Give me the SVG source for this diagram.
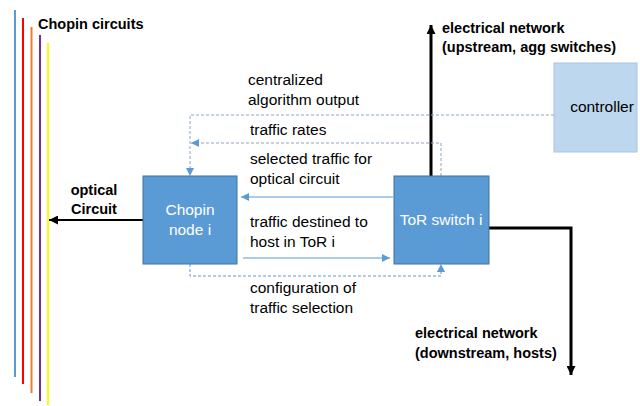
<svg xmlns="http://www.w3.org/2000/svg" width="640" height="406" viewBox="0 0 640 406">
<style>
.t{font-family:"Liberation Sans",Arial,sans-serif;font-size:15.5px;fill:#000}
.b{font-family:"Liberation Sans",Arial,sans-serif;font-size:14.5px;font-weight:bold;fill:#000}
.w{font-family:"Liberation Sans",Arial,sans-serif;font-size:15.5px;fill:#fff}
.node{fill:#5B9BD5;stroke:#41719C;stroke-width:1}
.dash{fill:none;stroke-width:1;stroke-dasharray:3,2}
.thick{fill:none;stroke:#000;stroke-width:3}
.thin{fill:none;stroke:#5B9BD5;stroke-width:1.2}
</style>
<defs>
<marker id="ab" viewBox="0 0 10 10" refX="10" refY="5" markerWidth="8" markerHeight="8" markerUnits="userSpaceOnUse" orient="auto"><path d="M0,0L10,5L0,10z" fill="#5B9BD5"/></marker>
<marker id="ak" viewBox="0 0 10 10" refX="10" refY="5" markerWidth="9" markerHeight="9" markerUnits="userSpaceOnUse" orient="auto"><path d="M0,0L10,5L0,10z" fill="#000"/></marker>
</defs>
<g id="circuits">
<line x1="15" y1="10" x2="15" y2="377" stroke="#5B9BD5" stroke-width="2"/>
<line x1="23" y1="18" x2="23" y2="384" stroke="#FF0000" stroke-width="2"/>
<line x1="31.5" y1="27" x2="31.5" y2="393" stroke="#ED7D31" stroke-width="2"/>
<line x1="40" y1="35" x2="40" y2="401" stroke="#7030A0" stroke-width="2"/>
<line x1="48" y1="43" x2="48" y2="405" stroke="#FFFF00" stroke-width="2"/>
<text class="b" x="38" y="29" font-size="14">Chopin circuits</text>
</g>
<g id="connectors">
<line x1="143" y1="220" x2="49" y2="220" stroke="#000" stroke-width="2" marker-end="url(#ak)"/>
<line x1="431" y1="176" x2="431" y2="25" class="thick" marker-end="url(#ak)"/>
<polyline points="489,228 571,228 571,375" class="thick" marker-end="url(#ak)"/>
<polyline points="554,115 190,115 190,176" class="dash" stroke="#8EA3C0" marker-end="url(#ab)"/>
<polyline points="441,176 441,143 191,143" class="dash" stroke="#8EA3C0" marker-end="url(#ab)"/>
<polyline points="190,264 190,276 441,276 441,264" class="dash" stroke="#5B9BD5" marker-end="url(#ab)"/>
<line x1="393" y1="197" x2="241" y2="197" class="thin" marker-end="url(#ab)"/>
<line x1="243" y1="258" x2="390" y2="258" class="thin" marker-end="url(#ab)"/>
</g>
<g id="chopin">
<rect class="node" x="143" y="176" width="94" height="88"/>
<text class="w" x="190" y="215" text-anchor="middle">Chopin</text>
<text class="w" x="190" y="235" text-anchor="middle">node i</text>
</g>
<g id="tor">
<rect class="node" x="394" y="176" width="95" height="88"/>
<text class="w" x="441" y="225" text-anchor="middle">ToR switch i</text>
</g>
<g id="controller">
<rect x="554" y="63" width="83" height="89" fill="#BDD7EE" stroke="#A9C4E0" stroke-width="1"/>
<text class="t" x="602" y="112" text-anchor="middle">controller</text>
</g>
<g id="labels">
<text class="b" x="94" y="195" text-anchor="middle">optical</text>
<text class="b" x="94" y="214" text-anchor="middle">Circuit</text>
<text class="b" x="442" y="33">electrical network</text>
<text class="b" x="442" y="52">(upstream, agg switches)</text>
<text class="b" x="415" y="338">electrical network</text>
<text class="b" x="415" y="358">(downstream, hosts)</text>
<text class="t" x="248" y="85">centralized</text>
<text class="t" x="248" y="105">algorithm output</text>
<text class="t" x="250" y="135">traffic rates</text>
<text class="t" x="250" y="164">selected traffic for</text>
<text class="t" x="250" y="184">optical circuit</text>
<text class="t" x="250" y="227">traffic destined to</text>
<text class="t" x="250" y="247">host in ToR i</text>
<text class="t" x="250" y="293">configuration of</text>
<text class="t" x="250" y="313">traffic selection</text>
</g>
</svg>
